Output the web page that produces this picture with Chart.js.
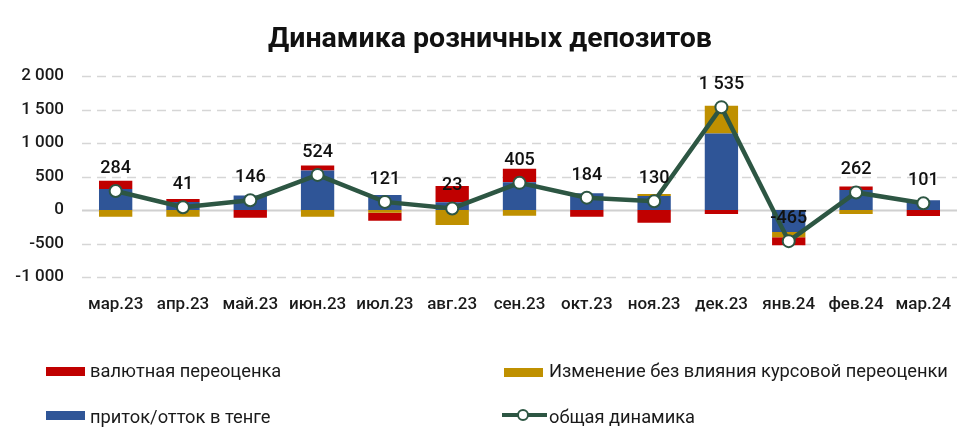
<!DOCTYPE html>
<html>
<head>
<meta charset="utf-8">
<script src="https://cdn.jsdelivr.net/npm/chart.js@4.4.1/dist/chart.umd.min.js"></script>
<style>
  html, body { margin: 0; padding: 0; background: #fff; }
  #wrap { position: relative; width: 980px; height: 448px; overflow: hidden; }
  canvas { position: absolute; left: 0; top: 0; }
  .lg { position: absolute; font-family: Roboto, "DejaVu Sans", sans-serif; font-size: 18.3px; color: #1a1a1a; white-space: nowrap; line-height: 20px; }
  .box { position: absolute; width: 39px; height: 9px; }
</style>
</head>
<body>
<div id="wrap">
  <canvas id="c" width="980" height="448"></canvas>
  <div class="box" style="left:46px;top:367px;background:#C00000"></div>
  <div class="lg" id="l1" style="left:90px;top:361px">валютная переоценка</div>
  <div class="box" style="left:504px;top:368px;background:#BF9000"></div>
  <div class="lg" id="l2" style="left:549px;top:361px">Изменение без влияния курсовой переоценки</div>
  <div class="box" style="left:46px;top:411px;background:#2F5597"></div>
  <div class="lg" id="l3" style="left:90px;top:407px">приток/отток в тенге</div>
  <svg style="position:absolute;left:500px;top:405px" width="50" height="20">
    <line x1="2" y1="10" x2="47" y2="10" stroke="#2D5643" stroke-width="4"/>
    <circle cx="23" cy="10" r="5" fill="#fff" stroke="#2D5643" stroke-width="2"/>
  </svg>
  <div class="lg" id="l4" style="left:549px;top:407px">общая динамика</div>
</div>
<script>
const categories = ['мар.23','апр.23','май.23','июн.23','июл.23','авг.23','сен.23','окт.23','ноя.23','дек.23','янв.24','фев.24','мар.24'];
const inflowKZT   = [315, 120, 215, 590, 225, 115, 415, 250, 210, 1140, -330, 300, 145];
const changeNoFX  = [-100, -100, 0, -100, -40, -225, -85, 0, 30, 415, -75, -60, 0];
const fxRevaluation = [120, 45, -115, 75, -120, 245, 200, -100, -190, -60, -120, 50, -90];
const totalDynamics = [284, 41, 146, 524, 121, 23, 405, 184, 130, 1535, -465, 262, 101];
const yTicks = [-1000, -500, 0, 500, 1000, 1500, 2000];

function fmt(v) {
  const s = Math.abs(v).toString().replace(/\B(?=(\d{3})+(?!\d))/g, ' ');
  return (v < 0 ? '-' : '') + s;
}

const titlePlugin = {
  id: 'titleDraw',
  afterDraw(chart) {
    const ctx = chart.ctx;
    ctx.save();
    const text = 'Динамика розничных депозитов';
    ctx.font = 'bold 28px Roboto, "DejaVu Sans", sans-serif';
    const w = ctx.measureText(text).width;
    const size = 28 * 444 / w;
    ctx.font = 'bold ' + size.toFixed(2) + 'px Roboto, "DejaVu Sans", sans-serif';
    ctx.fillStyle = '#111';
    ctx.textAlign = 'center';
    ctx.textBaseline = 'alphabetic';
    ctx.fillText(text, 490, 47);
    ctx.restore();
  }
};

const gridLines = {
  id: 'gridLines',
  beforeDatasetsDraw(chart) {
    const sy = chart.scales.y;
    const ctx = chart.ctx;
    const { left, right } = chart.chartArea;
    ctx.save();
    yTicks.forEach(v => {
      const y = Math.round(sy.getPixelForValue(v)) + 0.5;
      ctx.beginPath();
      if (v === 0) {
        ctx.setLineDash([]);
        ctx.strokeStyle = '#d0d0d0';
        ctx.lineWidth = 2;
      } else {
        ctx.setLineDash([9, 6]);
        ctx.strokeStyle = '#d6d6d6';
        ctx.lineWidth = 1.5;
      }
      ctx.moveTo(left, y);
      ctx.lineTo(right, y);
      ctx.stroke();
    });
    ctx.restore();
  }
};

const valueLabels = {
  id: 'valueLabels',
  afterDatasetsDraw(chart) {
    const idx = chart.data.datasets.findIndex(d => d.type === 'line');
    const meta = chart.getDatasetMeta(idx);
    const ctx = chart.ctx;
    ctx.save();
    ctx.font = '500 18px Roboto, "DejaVu Sans", sans-serif';
    ctx.fillStyle = '#111';
    ctx.textAlign = 'center';
    ctx.textBaseline = 'alphabetic';
    meta.data.forEach((pt, i) => {
      ctx.fillText(fmt(chart.data.datasets[idx].data[i]), pt.x, pt.y - 18);
    });
    ctx.restore();
  }
};

new Chart(document.getElementById('c'), {
  data: {
    labels: categories,
    datasets: [
      { type: 'bar', label: 'приток/отток в тенге', data: inflowKZT, backgroundColor: '#2F5597', stack: 'bars', order: 1 },
      { type: 'bar', label: 'Изменение без влияния курсовой переоценки', data: changeNoFX, backgroundColor: '#BF9000', stack: 'bars', order: 1 },
      { type: 'bar', label: 'валютная переоценка', data: fxRevaluation, backgroundColor: '#C00000', stack: 'bars', order: 1 },
      { type: 'line', label: 'общая динамика', data: totalDynamics, stack: 'line', order: 0,
        borderColor: '#2D5643', borderWidth: 4.5, pointRadius: 6, pointHoverRadius: 6,
        pointBackgroundColor: '#fff', pointBorderColor: '#2D5643', pointBorderWidth: 2, tension: 0 }
    ]
  },
  options: {
    responsive: false,
    animation: false,
    events: [],
    layout: { padding: { top: 76, bottom: 131, left: 0, right: 23 } },
    plugins: { legend: { display: false }, title: { display: false }, tooltip: { enabled: false } },
    datasets: { bar: { categoryPercentage: 1, barPercentage: 0.495 } },
    scales: {
      x: {
        stacked: true,
        grid: { display: false },
        border: { display: false },
        ticks: { color: '#1a1a1a', font: { family: 'Roboto', size: 17, weight: 500 }, padding: 10, maxRotation: 0, autoSkip: false },
        afterFit(s) { s.height = 40; }
      },
      y: {
        stacked: true,
        min: -1000, max: 2000,
        afterBuildTicks(s) { s.ticks = yTicks.map(v => ({ value: v })); },
        grid: { display: false, drawTicks: false },
        border: { display: false },
        ticks: { color: '#1a1a1a', font: { family: 'Roboto', size: 17, weight: 500 }, padding: 18, callback: v => fmt(v) },
        afterFit(s) { s.width = 82; }
      }
    }
  },
  plugins: [titlePlugin, gridLines, valueLabels]
});
</script>
</body>
</html>
